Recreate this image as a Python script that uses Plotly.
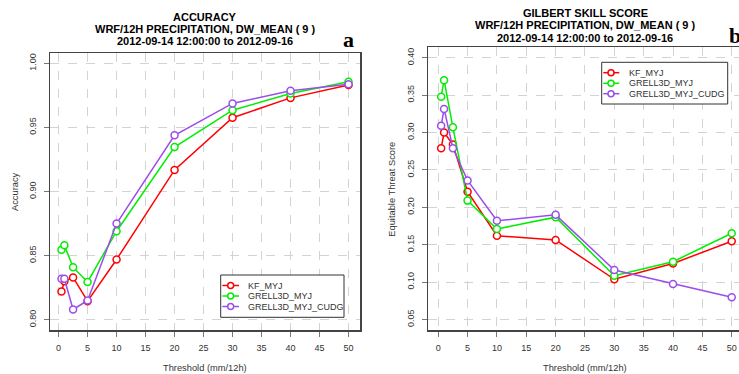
import plotly.graph_objects as go

# ---------------- data ----------------
thresholds = [0.5, 1, 2.5, 5, 10, 20, 30, 40, 50]
series_names = ["KF_MYJ", "GRELL3D_MYJ", "GRELL3D_MYJ_CUDG"]

acc_kf = [0.822, 0.830, 0.833, 0.8145, 0.847, 0.9168, 0.9575, 0.973, 0.983]
acc_grell = [0.8545, 0.858, 0.841, 0.8295, 0.869, 0.9347, 0.9634, 0.9764, 0.9855]
acc_cudg = [0.832, 0.832, 0.808, 0.815, 0.875, 0.9438, 0.9687, 0.9785, 0.9837]

ets_kf = [0.279, 0.300, 0.284, 0.221, 0.162, 0.1564, 0.1038, 0.125, 0.1547]
ets_grell = [0.348, 0.370, 0.307, 0.209, 0.171, 0.1869, 0.1086, 0.1273, 0.1654]
ets_cudg = [0.309, 0.3316, 0.279, 0.236, 0.182, 0.190, 0.1162, 0.0975, 0.0797]

x_ticks = [0, 5, 10, 15, 20, 25, 30, 35, 40, 45, 50]
acc_ticks = [0.80, 0.85, 0.90, 0.95, 1.00]
ets_ticks = [0.05, 0.10, 0.15, 0.20, 0.25, 0.30, 0.35, 0.40]

titles_left = ["ACCURACY", "WRF/12H PRECIPITATION, DW_MEAN ( 9 )", "2012-09-14 12:00:00 to 2012-09-16"]
titles_right = ["GILBERT SKILL SCORE", "WRF/12H PRECIPITATION, DW_MEAN ( 9 )", "2012-09-14 12:00:00 to 2012-09-16"]

colors = ["#FF0000", "#00EE00", "#9B4DEB"]

# ---------------- layout helpers ----------------
W, H = 739, 374
def px(x):
    return x / W
def py(y):
    return 1 - y / H

FONT = "Liberation Sans, Arial, Helvetica, sans-serif"

fig = go.Figure()

for vals, name, c in zip([acc_kf, acc_grell, acc_cudg], series_names, colors):
    fig.add_trace(go.Scatter(
        x=thresholds, y=vals, name=name, mode="lines+markers",
        line=dict(color=c, width=1.5),
        marker=dict(symbol="circle", size=7, color="white", line=dict(color=c, width=1.5)),
        xaxis="x", yaxis="y", showlegend=False, cliponaxis=False))

for vals, name, c in zip([ets_kf, ets_grell, ets_cudg], series_names, colors):
    fig.add_trace(go.Scatter(
        x=thresholds, y=vals, name=name, mode="lines+markers",
        line=dict(color=c, width=1.5),
        marker=dict(symbol="circle", size=7, color="white", line=dict(color=c, width=1.5)),
        xaxis="x2", yaxis="y2", showlegend=False, cliponaxis=False))

axis_common = dict(
    showline=True, linecolor="#444444", linewidth=1.5,
    ticks="outside", ticklen=5, tickcolor="#777777", tickwidth=1,
    showgrid=True, gridcolor="#d3d3d3", griddash="dash", gridwidth=1,
    zeroline=False, automargin=False, ticklabelstandoff=4,
    tickfont=dict(family=FONT, size=9, color="#333333"),
)

fig.update_layout(
    template="none",
    width=W, height=H,
    margin=dict(l=0, r=0, t=0, b=0),
    paper_bgcolor="white", plot_bgcolor="white",
    showlegend=False,
    xaxis=dict(domain=[px(50), px(360)], range=[-1.48, 51.98], tickvals=x_ticks,
               mirror=True, anchor="y", **axis_common),
    yaxis=dict(domain=[py(330), py(53)], range=[0.792, 1.008], tickvals=acc_ticks,
               tickformat=".2f", tickangle=-90, mirror=True, anchor="x", **axis_common),
    xaxis2=dict(domain=[px(428.3), 1.0], range=[-1.69, 51.24], tickvals=x_ticks,
                mirror=True, anchor="y2", **axis_common),
    yaxis2=dict(domain=[py(330), py(47.3)], range=[0.036, 0.414], tickvals=ets_ticks,
                tickformat=".2f", tickangle=-90, mirror=False, anchor="x2", **axis_common),
)

ann = []
def add_text(x, y, text, size, color="#333333", xanchor="center", angle=0, family=FONT):
    ann.append(dict(x=px(x), y=py(y), xref="paper", yref="paper", text=text, showarrow=False,
                    xanchor=xanchor, yanchor="middle", textangle=angle,
                    font=dict(family=family, size=size, color=color)))

# titles
for t, yy in zip(titles_left, [17, 29, 41]):
    add_text(205, yy, "<b>%s</b>" % t, 11, color="black")
for t, yy in zip(titles_right, [13, 25.5, 38]):
    add_text(585, yy, "<b>%s</b>" % t, 11, color="black")
# panel letters
SERIF = "Liberation Serif, Times New Roman, serif"
add_text(348, 40, "<b>a</b>", 22, color="black", family=SERIF)
add_text(727, 36, "<b>b</b>", 22, color="black", xanchor="left", family=SERIF)
# axis titles
add_text(205, 368, "Threshold (mm/12h)", 9.3)
add_text(585, 368, "Threshold (mm/12h)", 9.3)
add_text(14.5, 191.5, "Accuracy", 9.3, angle=-90)
add_text(391.7, 189, "Equitable Threat Score", 9.3, angle=-90)

shapes = []
# legends (box with sample line + circle + label)
def legend(box, line_x, circ_x, text_x, rows):
    x0, y0, x1, y1 = box
    shapes.append(dict(type="rect", xref="paper", yref="paper",
                       x0=px(x0), x1=px(x1), y0=py(y1), y1=py(y0),
                       line=dict(color="#333333", width=1), fillcolor="white", layer="above"))
    for name, c, ry in zip(series_names, colors, rows):
        shapes.append(dict(type="line", xref="paper", yref="paper",
                           x0=px(line_x[0]), x1=px(line_x[1]), y0=py(ry), y1=py(ry),
                           line=dict(color=c, width=1.5), layer="above"))
        shapes.append(dict(type="circle", xref="paper", yref="paper",
                           x0=px(circ_x - 3), x1=px(circ_x + 3), y0=py(ry + 3), y1=py(ry - 3),
                           line=dict(color=c, width=1.5), fillcolor="white", layer="above"))
        add_text(text_x, ry, name, 9, xanchor="left")

legend((220.7, 275, 344, 317.3), (222.3, 239), 230.7, 245.5, [285.5, 296, 306.5])
legend((601.7, 62.3, 727.7, 104), (603.3, 619.3), 611, 627, [72.7, 83.3, 93.7])

fig.update_layout(annotations=ann, shapes=shapes)

fig.write_html("out.html",
               config={"displayModeBar": False, "staticPlot": True},
               post_script="document.body.style.margin='0';document.body.style.padding='0';"
                           "document.body.style.overflow='hidden';")
